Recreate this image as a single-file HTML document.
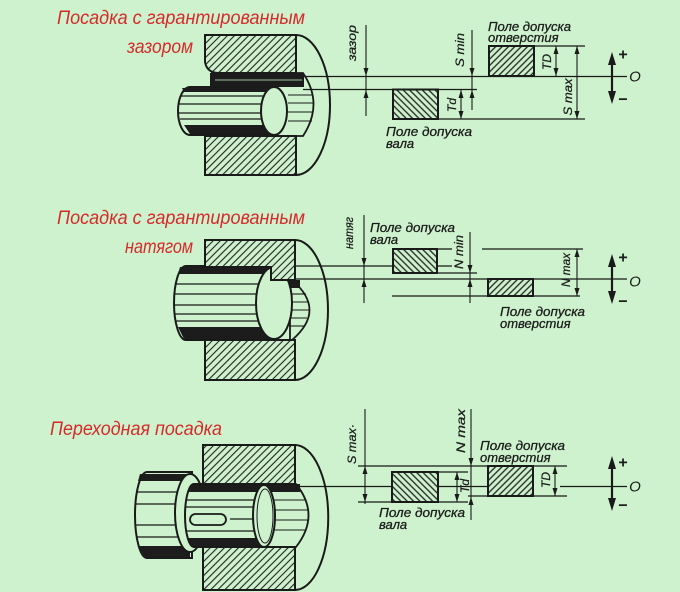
<!DOCTYPE html>
<html><head><meta charset="utf-8">
<style>
html,body{margin:0;padding:0;background:#cdf2cd;}
svg{display:block;}
.t{font-family:"Liberation Sans",sans-serif;font-style:italic;font-size:13px;fill:#1c1c1c;stroke:#1c1c1c;stroke-width:0.3;}
.v{font-family:"Liberation Sans",sans-serif;font-style:italic;font-size:12px;fill:#1c1c1c;stroke:#1c1c1c;stroke-width:0.25;}
.r{font-family:"Liberation Sans Narrow","Liberation Sans",sans-serif;font-style:italic;font-size:19px;fill:#d62a2a;}
.s{font-family:"Liberation Sans",sans-serif;font-size:16px;font-weight:bold;fill:#1c1c1c;}
.o{font-family:"Liberation Sans",sans-serif;font-style:italic;font-size:15px;fill:#1c1c1c;}
</style></head><body>
<svg width="680" height="592" viewBox="0 0 680 592" xmlns="http://www.w3.org/2000/svg">
<defs>
<pattern id="h1" width="5" height="5" patternUnits="userSpaceOnUse" patternTransform="rotate(45)"><rect width="5" height="5" fill="#cdf2cd"/><line x1="1" y1="0" x2="1" y2="5" stroke="#222" stroke-width="1.1"/></pattern>
<pattern id="h2" width="4.5" height="4.5" patternUnits="userSpaceOnUse" patternTransform="rotate(-45)"><rect width="4.5" height="4.5" fill="#cdf2cd"/><line x1="1" y1="0" x2="1" y2="4.5" stroke="#222" stroke-width="1.3"/></pattern>
<pattern id="h3" width="4.5" height="4.5" patternUnits="userSpaceOnUse" patternTransform="rotate(45)"><rect width="4.5" height="4.5" fill="#cdf2cd"/><line x1="1" y1="0" x2="1" y2="4.5" stroke="#222" stroke-width="1.3"/></pattern>
</defs>
<rect width="680" height="592" fill="#cdf2cd"/>

<!-- Titles -->
<text class="r" x="57" y="24" textLength="248" lengthAdjust="spacingAndGlyphs">Посадка с гарантированным</text>
<text class="r" x="127" y="53" textLength="66" lengthAdjust="spacingAndGlyphs">зазором</text>
<text class="r" x="57" y="224" textLength="248" lengthAdjust="spacingAndGlyphs">Посадка с гарантированным</text>
<text class="r" x="125" y="253" textLength="68" lengthAdjust="spacingAndGlyphs">натягом</text>
<text class="r" x="50" y="435" textLength="172" lengthAdjust="spacingAndGlyphs">Переходная посадка</text>

<!-- ============ SECTION 1 drawing ============ -->
<g stroke="#1a1a1a" fill="none">
<path d="M212,73 H303 Q324,104 303,136 H212 Z" fill="#cdf2cd" stroke-width="1.8"/>
<rect x="210" y="73" width="94" height="14" fill="#1c1c1c" stroke="none"/>
<line x1="215" y1="80" x2="302" y2="80" stroke="#9fbf9f" stroke-width="1"/>
<g stroke-width="1.1">
<line x1="288" y1="95" x2="312" y2="95"/><line x1="288" y1="103" x2="313" y2="103"/>
<line x1="288" y1="112" x2="313" y2="112"/><line x1="288" y1="121" x2="312" y2="121"/>
</g>
<path d="M190,87 H274 V135 H190 A12,24 0 0 1 190,87 Z" fill="#cdf2cd" stroke-width="2"/>
<g stroke-width="1.2">
<line x1="180" y1="96" x2="268" y2="96"/><line x1="179" y1="104" x2="266" y2="104"/>
<line x1="179" y1="113" x2="265" y2="113"/><line x1="180" y1="119" x2="266" y2="119"/>
</g>
<path d="M184,125 H270 V134 H190 Z" fill="#1c1c1c" stroke="none"/>
<path d="M182,88 H272 V92 H184 Z" fill="#1c1c1c" stroke="none"/>
<ellipse cx="274" cy="111" rx="13" ry="24" fill="#cdf2cd" stroke-width="2"/>
<path d="M205,35 H296 V73 H219 Q207,73 205,62 Z" fill="url(#h1)" stroke-width="2"/>
<rect x="205" y="136" width="91" height="39" fill="url(#h1)" stroke-width="2"/>
<path d="M296,35 A34,70 0 0 1 296,175" stroke-width="2"/>
<line x1="303" y1="76.5" x2="627" y2="76.5" stroke-width="1.3"/>
<line x1="303" y1="89.5" x2="477" y2="89.5" stroke-width="1.3"/>
</g>

<!-- Section 1 diagram -->
<g stroke="#1a1a1a" fill="none" stroke-width="1.3">
<rect x="489" y="46" width="45" height="30" fill="url(#h3)" stroke-width="2"/>
<rect x="393" y="89.5" width="45" height="29.5" fill="url(#h2)" stroke-width="2"/>
<line x1="534" y1="46" x2="585" y2="46"/>
<line x1="438" y1="119" x2="585" y2="119"/>
<line x1="366" y1="25" x2="366" y2="116" stroke-width="1.1"/>
<line x1="472" y1="30" x2="472" y2="110" stroke-width="1.1"/>
<line x1="556" y1="46" x2="556" y2="76" stroke-width="1.1"/>
<line x1="577" y1="46" x2="577" y2="119" stroke-width="1.1"/>
<line x1="461" y1="89" x2="461" y2="119" stroke-width="1.1"/>
<line x1="612" y1="60" x2="612" y2="96" stroke-width="2.2"/>
</g>
<g fill="#1a1a1a">
<polygon points="366,76 363.5,68 368.5,68"/><polygon points="366,90 363.5,98 368.5,98"/>
<polygon points="472,76 469.5,68 474.5,68"/><polygon points="472,90 469.5,98 474.5,98"/>
<polygon points="556,46 553.5,54 558.5,54"/><polygon points="556,76 553.5,68 558.5,68"/>
<polygon points="577,46 574.5,54 579.5,54"/><polygon points="577,119 574.5,111 579.5,111"/>
<polygon points="461,90 458.5,98 463.5,98"/><polygon points="461,119 458.5,111 463.5,111"/>
<polygon points="612,52 608,65 616,65"/><polygon points="612,104 608,91 616,91"/>
</g>
<text class="v" transform="translate(352,43) rotate(-90)" text-anchor="middle" dominant-baseline="central" textLength="36" lengthAdjust="spacingAndGlyphs">зазор</text>
<text class="v" transform="translate(460,50) rotate(-90)" text-anchor="middle" dominant-baseline="central" textLength="34" lengthAdjust="spacingAndGlyphs">S min</text>
<text class="v" transform="translate(547,62) rotate(-90)" text-anchor="middle" dominant-baseline="central">TD</text>
<text class="v" transform="translate(568,97) rotate(-90)" text-anchor="middle" dominant-baseline="central" textLength="37" lengthAdjust="spacingAndGlyphs">S max</text>
<text class="v" transform="translate(452,105) rotate(-90)" text-anchor="middle" dominant-baseline="central">Td</text>
<text class="t" x="488" y="31" textLength="83" lengthAdjust="spacingAndGlyphs">Поле допуска</text>
<text class="t" x="488" y="42">отверстия</text>
<text class="t" x="386" y="136" textLength="86" lengthAdjust="spacingAndGlyphs">Поле допуска</text>
<text class="t" x="386" y="148">вала</text>
<text class="s" x="623" y="55" text-anchor="middle" dominant-baseline="central">+</text>
<text class="s" x="623" y="100" text-anchor="middle" dominant-baseline="central">−</text>
<text class="o" x="635" y="77" text-anchor="middle" dominant-baseline="central">O</text>

<!-- ============ SECTION 2 drawing ============ -->
<g stroke="#1a1a1a" fill="none">
<path d="M290,280 H292 Q327,310 292,340 H290 Z" fill="#cdf2cd" stroke-width="1.8"/>
<rect x="286" y="280" width="14" height="8" fill="#1c1c1c" stroke="none"/>
<g stroke-width="1.1">
<line x1="290" y1="294" x2="306" y2="294"/><line x1="290" y1="302" x2="308" y2="302"/>
<line x1="290" y1="310" x2="309" y2="310"/><line x1="290" y1="318" x2="307" y2="318"/>
<line x1="290" y1="326" x2="304" y2="326"/>
</g>
<path d="M186,266 H274 V340 H186 A12,37 0 0 1 186,266 Z" fill="#cdf2cd" stroke-width="2"/>
<path d="M180,267 H272 V274 H178 Z" fill="#1c1c1c" stroke="none"/>
<path d="M178,327 H270 V339 H184 Z" fill="#1c1c1c" stroke="none"/>
<g stroke-width="1.2">
<line x1="176" y1="284" x2="262" y2="284"/><line x1="175" y1="294" x2="259" y2="294"/>
<line x1="175" y1="305" x2="258" y2="305"/><line x1="175" y1="314" x2="259" y2="314"/>
<line x1="176" y1="321" x2="261" y2="321"/>
</g>
<ellipse cx="274" cy="303" rx="18" ry="36" fill="#cdf2cd" stroke-width="2"/>
<path d="M205,240 H295 V280 H271 V267 H205 Z" fill="url(#h1)" stroke-width="2"/>
<rect x="205" y="340" width="90" height="40" fill="url(#h1)" stroke-width="2"/>
<path d="M295,240 A33,70 0 0 1 295,380" stroke-width="2"/>
<line x1="295" y1="266" x2="452" y2="266" stroke-width="1.3"/>
<line x1="295" y1="279" x2="627" y2="279" stroke-width="1.3"/>
</g>

<!-- Section 2 diagram -->
<g stroke="#1a1a1a" fill="none" stroke-width="1.3">
<rect x="393" y="249" width="44" height="24" fill="url(#h2)" stroke-width="2"/>
<rect x="488" y="279" width="45" height="17" fill="url(#h3)" stroke-width="2"/>
<line x1="437" y1="249" x2="452" y2="249"/>
<line x1="437" y1="273" x2="477" y2="273"/>
<line x1="482" y1="249" x2="583" y2="249"/>
<line x1="392" y1="296" x2="580" y2="296"/>
<line x1="364" y1="215" x2="364" y2="303" stroke-width="1.1"/>
<line x1="470" y1="232" x2="470" y2="303" stroke-width="1.1"/>
<line x1="577" y1="249" x2="577" y2="296" stroke-width="1.1"/>
<line x1="612" y1="262" x2="612" y2="296" stroke-width="2.2"/>
</g>
<g fill="#1a1a1a">
<polygon points="364,266 361.5,258 366.5,258"/><polygon points="364,279 361.5,287 366.5,287"/>
<polygon points="470,273 467.5,265 472.5,265"/><polygon points="470,279 467.5,287 472.5,287"/>
<polygon points="577,249 574.5,257 579.5,257"/><polygon points="577,296 574.5,288 579.5,288"/>
<polygon points="612,254 608,267 616,267"/><polygon points="612,304 608,291 616,291"/>
</g>
<text class="v" transform="translate(349,233) rotate(-90)" text-anchor="middle" dominant-baseline="central" textLength="32" lengthAdjust="spacingAndGlyphs">натяг</text>
<text class="v" transform="translate(459,252) rotate(-90)" text-anchor="middle" dominant-baseline="central" textLength="34" lengthAdjust="spacingAndGlyphs">N min</text>
<text class="v" transform="translate(566,270) rotate(-90)" text-anchor="middle" dominant-baseline="central" textLength="34" lengthAdjust="spacingAndGlyphs">N max</text>
<text class="t" x="370" y="232" textLength="85" lengthAdjust="spacingAndGlyphs">Поле допуска</text>
<text class="t" x="370" y="244">вала</text>
<text class="t" x="500" y="316" textLength="85" lengthAdjust="spacingAndGlyphs">Поле допуска</text>
<text class="t" x="500" y="328">отверстия</text>
<text class="s" x="623" y="258" text-anchor="middle" dominant-baseline="central">+</text>
<text class="s" x="623" y="302" text-anchor="middle" dominant-baseline="central">−</text>
<text class="o" x="635" y="282" text-anchor="middle" dominant-baseline="central">O</text>

<!-- ============ SECTION 3 drawing ============ -->
<g stroke="#1a1a1a" fill="none">
<path d="M262,484 H296 Q321,515 296,547 H262 Z" fill="#cdf2cd" stroke-width="1.8"/>
<rect x="262" y="484" width="38" height="8" fill="#1c1c1c" stroke="none"/>
<g stroke-width="1.1">
<line x1="272" y1="500" x2="306" y2="500"/><line x1="272" y1="510" x2="308" y2="510"/>
<line x1="272" y1="520" x2="308" y2="520"/><line x1="272" y1="530" x2="306" y2="530"/>
</g>
<rect x="203" y="445" width="92" height="39" fill="url(#h1)" stroke-width="2"/>
<rect x="203" y="547" width="92" height="43" fill="url(#h1)" stroke-width="2"/>
<path d="M295,445 A33,72 0 0 1 295,590" stroke-width="2"/>
<line x1="300" y1="486.5" x2="488" y2="486.5" stroke-width="1.3"/>
<!-- large shaft -->
<path d="M147,472 H192 V558 H147 A12,43 0 0 1 147,472 Z" fill="#cdf2cd" stroke-width="2"/>
<path d="M140,474 H190 V481 H138 Z" fill="#1c1c1c" stroke="none"/>
<path d="M138,546 H190 V557 H145 Z" fill="#1c1c1c" stroke="none"/>
<g stroke-width="1.2">
<line x1="137" y1="492" x2="185" y2="492"/><line x1="136" y1="504" x2="185" y2="504"/>
<line x1="136" y1="525" x2="185" y2="525"/><line x1="137" y1="537" x2="185" y2="537"/>
</g>
<!-- flange -->
<ellipse cx="190" cy="513" rx="15" ry="39" fill="#cdf2cd" stroke-width="2"/>
<!-- small shaft -->
<path d="M194,484 H264 V547 H194 A9,31.5 0 0 1 194,484 Z" fill="#cdf2cd" stroke-width="2"/>
<path d="M190,485 H262 V492 H188 Z" fill="#1c1c1c" stroke="none"/>
<path d="M188,538 H262 V546 H192 Z" fill="#1c1c1c" stroke="none"/>
<g stroke-width="1.2">
<line x1="186" y1="500" x2="256" y2="500"/><line x1="186" y1="507" x2="255" y2="507"/>
<line x1="230" y1="519" x2="254" y2="519"/><line x1="186" y1="531" x2="256" y2="531"/>
</g>
<rect x="190" y="514" width="36" height="11" rx="5.5" fill="#cdf2cd" stroke-width="1.8"/>
<ellipse cx="264" cy="516" rx="11" ry="31" fill="#cdf2cd" stroke-width="2"/>
<ellipse cx="265" cy="516" rx="8" ry="27" fill="none" stroke-width="1"/>
</g>

<!-- Section 3 diagram -->
<g stroke="#1a1a1a" fill="none" stroke-width="1.3">
<rect x="392" y="472" width="46" height="30" fill="url(#h2)" stroke-width="2"/>
<rect x="488" y="466" width="45" height="30" fill="url(#h3)" stroke-width="2"/>
<line x1="358" y1="466" x2="567" y2="466"/>
<line x1="438" y1="472" x2="468" y2="472"/>
<line x1="358" y1="502" x2="468" y2="502"/>
<line x1="468" y1="496" x2="567" y2="496"/>
<line x1="560" y1="486.5" x2="627" y2="486.5"/>
<line x1="365" y1="409" x2="365" y2="504" stroke-width="1.1"/>
<line x1="457" y1="472" x2="457" y2="502" stroke-width="1.1"/>
<line x1="471" y1="409" x2="471" y2="520" stroke-width="1.1"/>
<line x1="555" y1="466" x2="555" y2="496" stroke-width="1.1"/>
<line x1="612" y1="464" x2="612" y2="503" stroke-width="2.2"/>
</g>
<g fill="#1a1a1a">
<polygon points="365,466 362.5,474 367.5,474"/><polygon points="365,502 362.5,494 367.5,494"/>
<polygon points="457,472 454.5,480 459.5,480"/><polygon points="457,502 454.5,494 459.5,494"/>
<polygon points="471,466 468.5,458 473.5,458"/><polygon points="471,497 468.5,505 473.5,505"/>
<polygon points="555,466 552.5,474 557.5,474"/><polygon points="555,496 552.5,488 557.5,488"/>
<polygon points="612,456 608,469 616,469"/><polygon points="612,511 608,498 616,498"/>
</g>
<text class="v" transform="translate(352,444) rotate(-90)" text-anchor="middle" dominant-baseline="central" textLength="40" lengthAdjust="spacingAndGlyphs">S max·</text>
<text class="v" transform="translate(461,431) rotate(-90)" text-anchor="middle" dominant-baseline="central" textLength="44" lengthAdjust="spacingAndGlyphs">N  max</text>
<text class="v" transform="translate(465,486) rotate(-90)" text-anchor="middle" dominant-baseline="central">Td</text>
<text class="v" transform="translate(546,480) rotate(-90)" text-anchor="middle" dominant-baseline="central">TD</text>
<text class="t" x="480" y="450" textLength="85" lengthAdjust="spacingAndGlyphs">Поле допуска</text>
<text class="t" x="480" y="462">отверстия</text>
<text class="t" x="379" y="517" textLength="86" lengthAdjust="spacingAndGlyphs">Поле допуска</text>
<text class="t" x="379" y="529">вала</text>
<text class="s" x="623" y="463" text-anchor="middle" dominant-baseline="central">+</text>
<text class="s" x="623" y="506" text-anchor="middle" dominant-baseline="central">−</text>
<text class="o" x="635" y="487" text-anchor="middle" dominant-baseline="central">O</text>
</svg>
</body></html>
